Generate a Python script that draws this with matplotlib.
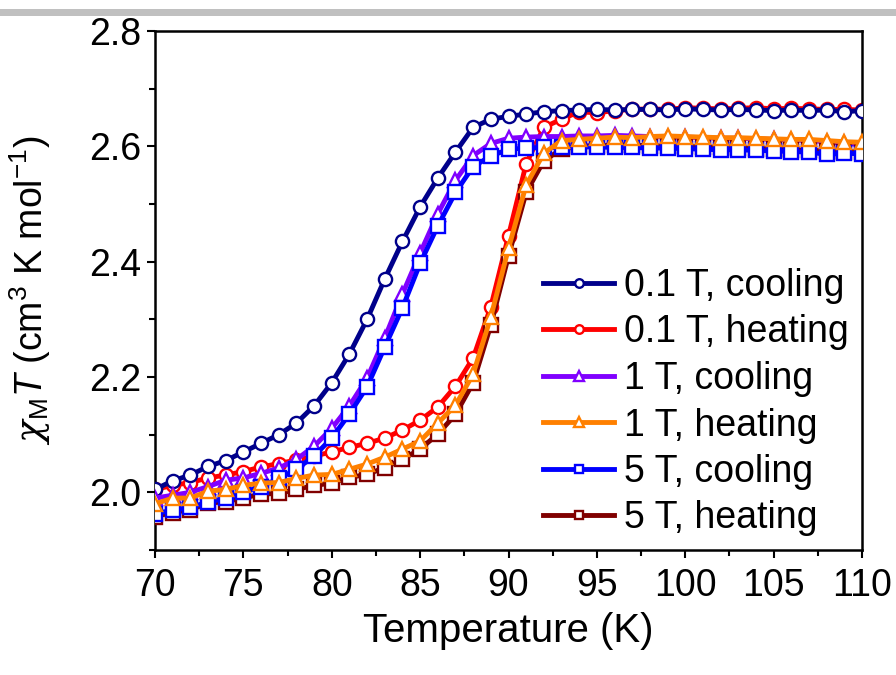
import matplotlib
matplotlib.use('Agg')
import matplotlib.pyplot as plt
from matplotlib.patches import Rectangle
from matplotlib.ticker import MultipleLocator

plt.rcParams['font.family'] = ['Liberation Sans', 'DejaVu Sans']
plt.rcParams['mathtext.fontset'] = 'custom'
plt.rcParams['mathtext.rm'] = 'Liberation Sans'
plt.rcParams['mathtext.it'] = 'Liberation Sans:italic'
plt.rcParams['mathtext.cal'] = 'DejaVu Serif:italic'  # used for the chi glyph

temps = list(range(70, 111))

cool_01 = [2.005, 2.02, 2.03, 2.045, 2.055, 2.07, 2.085, 2.10, 2.12, 2.15,
           2.19, 2.24, 2.30, 2.37, 2.435, 2.495, 2.545, 2.59, 2.633, 2.647,
           2.652, 2.656, 2.66, 2.662, 2.663, 2.664, 2.663, 2.664, 2.664, 2.663,
           2.665, 2.664, 2.663, 2.664, 2.663, 2.662, 2.663, 2.662, 2.663, 2.66, 2.662]
heat_01 = [2.005, 2.012, 2.017, 2.025, 2.03, 2.036, 2.044, 2.05, 2.056, 2.063,
           2.07, 2.078, 2.085, 2.094, 2.108, 2.125, 2.148, 2.184, 2.233, 2.322,
           2.445, 2.57, 2.633, 2.647, 2.66, 2.658, 2.662, 2.664, 2.665, 2.664,
           2.667, 2.666, 2.665, 2.666, 2.667, 2.665, 2.666, 2.665, 2.664, 2.664, 2.663]
cool_1 = [1.99, 1.995, 2.00, 2.01, 2.021, 2.025, 2.033, 2.042, 2.057, 2.08,
          2.111, 2.15, 2.198, 2.268, 2.344, 2.415, 2.483, 2.541, 2.584, 2.605,
          2.614, 2.616, 2.617, 2.617, 2.618, 2.618, 2.619, 2.618, 2.617, 2.616,
          2.616, 2.615, 2.614, 2.614, 2.613, 2.612, 2.611, 2.61, 2.608, 2.605, 2.603]
heat_1 = [1.98, 1.99, 1.99, 2.002, 2.005, 2.012, 2.016, 2.017, 2.024, 2.03,
          2.031, 2.04, 2.049, 2.061, 2.075, 2.089, 2.12, 2.151, 2.205, 2.304,
          2.423, 2.533, 2.588, 2.61, 2.612, 2.614, 2.616, 2.615, 2.617, 2.618,
          2.617, 2.616, 2.615, 2.615, 2.614, 2.613, 2.612, 2.612, 2.61, 2.608, 2.607]
cool_5 = [1.963, 1.969, 1.974, 1.983, 1.99, 2.0, 2.01, 2.024, 2.04, 2.063,
          2.094, 2.136, 2.183, 2.252, 2.32, 2.397, 2.462, 2.52, 2.565, 2.583,
          2.595, 2.597, 2.598, 2.598, 2.599, 2.599, 2.598, 2.598, 2.597, 2.597,
          2.596, 2.595, 2.594, 2.594, 2.593, 2.592, 2.591, 2.59, 2.586, 2.588, 2.587]
heat_5 = [1.958, 1.965, 1.97, 1.981, 1.984, 1.99, 1.997, 1.998, 2.005, 2.012,
          2.016, 2.026, 2.031, 2.043, 2.057, 2.075, 2.101, 2.135, 2.19, 2.29,
          2.41, 2.52, 2.575, 2.595, 2.60, 2.601, 2.602, 2.602, 2.601, 2.6,
          2.6, 2.599, 2.598, 2.597, 2.596, 2.595, 2.594, 2.593, 2.592, 2.591, 2.59]

# label, data, colour, marker, zorder
series = [
    ('0.1 T, cooling', cool_01, '#00008B', 'o', 3),
    ('0.1 T, heating', heat_01, '#FF0000', 'o', 2),
    ('1 T, cooling', cool_1, '#8000FF', '^', 4),
    ('1 T, heating', heat_1, '#FF8000', '^', 7),
    ('5 T, cooling', cool_5, '#0000FF', 's', 6),
    ('5 T, heating', heat_5, '#800000', 's', 5),
]

fig = plt.figure(figsize=(8.96, 6.75), dpi=100)
ax = fig.add_axes([155 / 896, 1 - 550 / 675, (862 - 155) / 896, (550 - 31) / 675])

# grey strip along the top of the screenshot
fig.add_artist(Rectangle((0, 1 - 16 / 675), 1, 7 / 675, transform=fig.transFigure,
                         color='#C0C0C0', lw=0))

for label, vals, col, mk, z in series:
    ms = 9.5 if mk != '^' else 10.5
    ax.plot(temps, vals, color=col, lw=3.5, marker=mk, ms=ms, mfc='white',
            mec=col, mew=1.7, label=label, zorder=z)

ax.set_xlim(70, 110)
ax.set_ylim(1.9, 2.8)
ax.xaxis.set_major_locator(MultipleLocator(5))
ax.xaxis.set_minor_locator(MultipleLocator(2.5))
ax.yaxis.set_major_locator(MultipleLocator(0.2))
ax.yaxis.set_minor_locator(MultipleLocator(0.1))
ax.yaxis.set_major_formatter(plt.FormatStrFormatter('%.1f'))
ax.tick_params(which='both', direction='out', width=1.5, top=False, right=False)
ax.tick_params(which='major', length=6, labelsize=27, pad=4)
ax.tick_params(axis='x', which='major', pad=7)
ax.tick_params(which='minor', length=4)
for sp in ax.spines.values():
    sp.set_linewidth(1.8)

ax.set_xlabel('Temperature (K)', fontsize=29, labelpad=6)
ax.set_ylabel(r'$\mathcal{\chi}_{\mathrm{M}}\mathit{T}$ (cm$^{3}$ K mol$^{-1}$)',
              fontsize=27, labelpad=26)

ax.legend(loc='upper left', bbox_to_anchor=(543 / 896, 1 - 268 / 675),
          bbox_transform=fig.transFigure, frameon=False, fontsize=27,
          markerscale=0.65, handlelength=1.9, handletextpad=0.27,
          labelspacing=0.28, borderaxespad=0, borderpad=0)

fig.savefig('out.png', dpi=100)
